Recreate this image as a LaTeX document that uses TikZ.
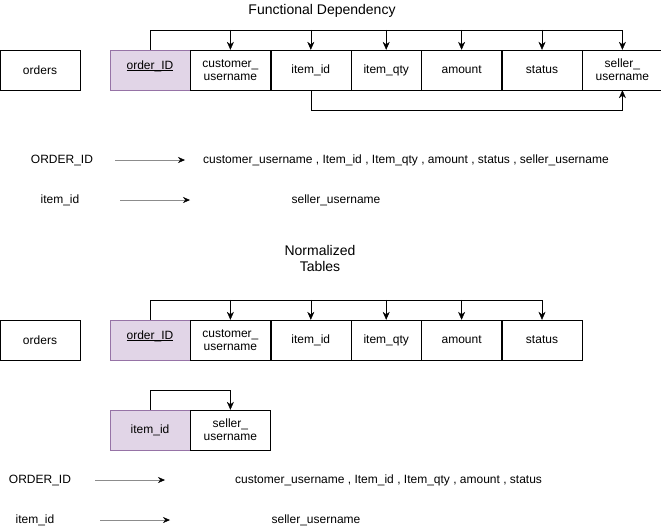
\documentclass[tikz,border=0pt]{standalone}
\usepackage{fontspec}
\setmainfont{Liberation Sans}
\usetikzlibrary{arrows.meta}
\usetikzlibrary{positioning}
\tikzset{attr/.style = {draw, minimum width=80pt, minimum height=40pt, inner sep=0pt,
                        align=center, font=\fontsize{12}{13}\selectfont},
         keyattr/.style = {attr, fill=keyfill, draw=keydraw},
         dep/.style = {-{Stealth[length=8pt, width=7pt]}},
         fd/.style = {draw=gray!90, -{Stealth[length=7pt, width=6pt, black]}},
         txt/.style = {font=\fontsize{12}{13}\selectfont, inner sep=0pt},
         ttl/.style = {font=\fontsize{14}{16}\selectfont, inner sep=0pt, align=center}}
\definecolor{keyfill}{HTML}{E1D5E7}
\definecolor{keydraw}{HTML}{9673A6}
\newcommand{\pkey}[1]{\underline{\smash{#1}}}

\begin{document}
\begin{tikzpicture}[x=1pt, y=-1pt]
    \useasboundingbox (0, 0) rectangle (661, 531);

    \node [ttl] (title1) at (322, 11) {Functional Dependency};

    % first table
    \node [attr] (orders1) at (40, 70) {orders};
    \node [keyattr] (oid1) at (150, 70) {\pkey{order\_ID}};
    \node [attr, right=0pt of oid1] (cust1) {customer\_\\username};
    \node [attr, right=0pt of cust1] (item1) {item\_id};
    \node [attr, minimum width=70pt, right=0pt of item1] (qty1) {item\_qty};
    \node [attr, right=0pt of qty1] (amt1) {amount};
    \node [attr, right=0pt of amt1] (stat1) {status};
    \node [attr, right=0pt of stat1] (sell1) {seller\_\\username};

    \coordinate (top1) at ([yshift=20pt]oid1.north);
    \draw [dep] (oid1.north) -- (top1) -| (sell1.north);
    \foreach \n in {cust1, item1, qty1, amt1, stat1}
      \draw [dep] (top1 -| \n.north) -- (\n.north);
    \coordinate (bot1) at ([yshift=-20pt]item1.south);
    \draw [dep] (item1.south) -- (bot1) -| (sell1.south);

    % dependencies
    \node [txt] (fdA) at (62, 160) {ORDER\_ID};
    \node [txt, anchor=west] (rhsA) at (203, 160) {customer\_username , Item\_id , Item\_qty , amount , status , seller\_username};
    \coordinate (fdAs) at (115, 160);
    \coordinate (fdAe) at (185, 160);
    \draw [fd] (fdAs) -- (fdAe);

    \node [txt] (fdB) at (60, 200) {item\_id};
    \node [txt] (rhsB) at (336, 200) {seller\_username};
    \coordinate (fdBs) at (120, 200);
    \coordinate (fdBe) at (190, 200);
    \draw [fd] (fdBs) -- (fdBe);

    \node [ttl] (title2) at (320, 258) {Normalized\\Tables};

    % second table
    \node [attr] (orders2) at (40, 340) {orders};
    \node [keyattr] (oid2) at (150, 340) {\pkey{order\_ID}};
    \node [attr, right=0pt of oid2] (cust2) {customer\_\\username};
    \node [attr, right=0pt of cust2] (item2) {item\_id};
    \node [attr, minimum width=70pt, right=0pt of item2] (qty2) {item\_qty};
    \node [attr, right=0pt of qty2] (amt2) {amount};
    \node [attr, right=0pt of amt2] (stat2) {status};

    \coordinate (top2) at ([yshift=20pt]oid2.north);
    \draw [dep] (oid2.north) -- (top2) -| (stat2.north);
    \foreach \n in {cust2, item2, qty2, amt2}
      \draw [dep] (top2 -| \n.north) -- (\n.north);

    % third table
    \node [keyattr] (item3) at (150, 430) {item\_id};
    \node [attr, right=0pt of item3] (sell3) {seller\_\\username};
    \coordinate (top3) at ([yshift=20pt]item3.north);
    \draw [dep] (item3.north) -- (top3) -| (sell3.north);

    % dependencies after normalization
    \node [txt] (fdC) at (40, 480) {ORDER\_ID};
    \node [txt, anchor=west] (rhsC) at (235, 480) {customer\_username , Item\_id , Item\_qty , amount , status};
    \coordinate (fdCs) at (95, 480);
    \coordinate (fdCe) at (165, 480);
    \draw [fd] (fdCs) -- (fdCe);

    \node [txt] (fdD) at (35, 520) {item\_id};
    \node [txt] (rhsD) at (316, 520) {seller\_username};
    \coordinate (fdDs) at (100, 520);
    \coordinate (fdDe) at (170, 520);
    \draw [fd] (fdDs) -- (fdDe);
\end{tikzpicture}
\end{document}
